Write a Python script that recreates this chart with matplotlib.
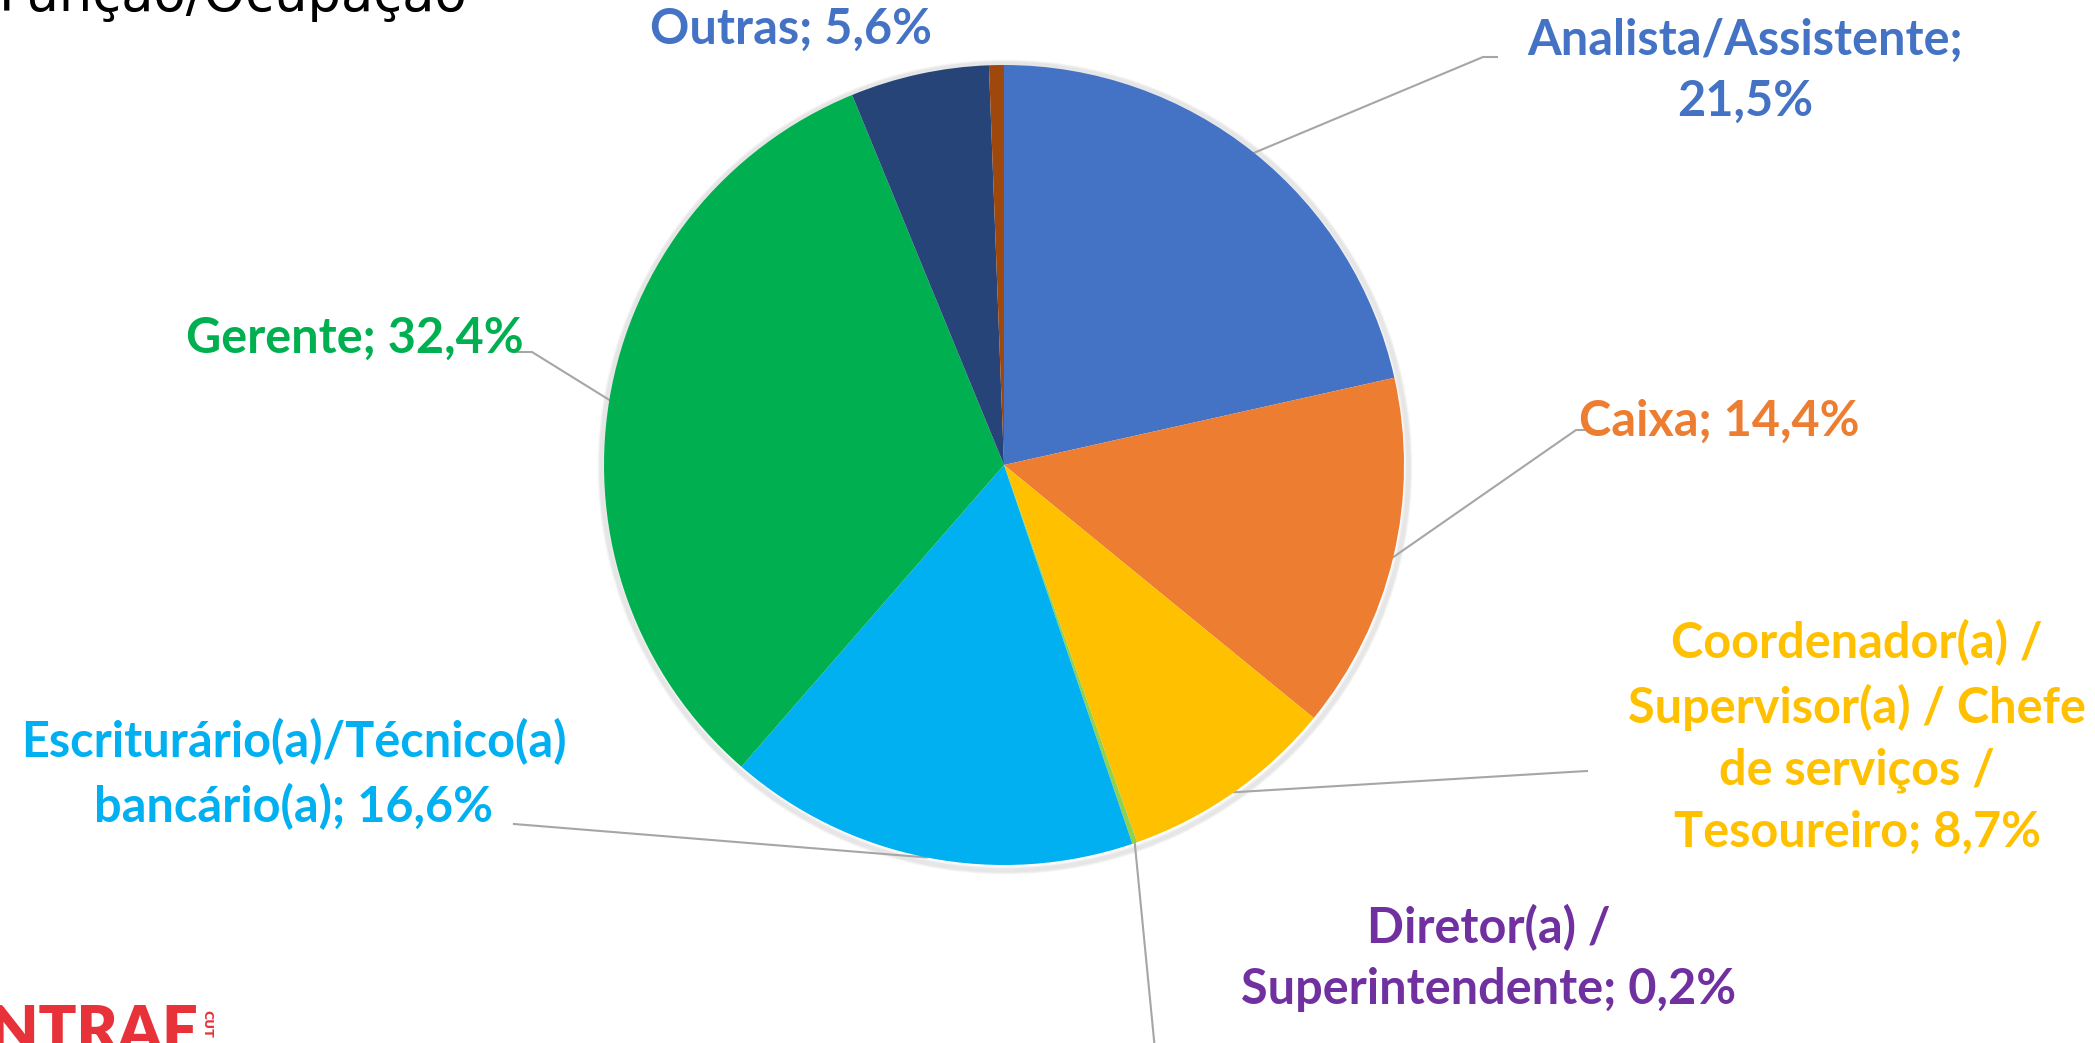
import matplotlib
matplotlib.use('Agg')
import matplotlib.pyplot as plt
from matplotlib.patches import Circle
import numpy as np

# Data setup
categories = ['Analista/Assistente', 'Caixa',
              'Coordenador(a) / Supervisor(a) / Chefe de serviços / Tesoureiro',
              'Diretor(a) / Superintendente',
              'Escriturário(a)/Técnico(a) bancário(a)', 'Gerente', 'Outras',
              'Sem resposta']
shares = [21.5, 14.4, 8.7, 0.2, 16.6, 32.4, 5.6, 0.6]
# label text as wrapped on the chart (None = slice without label)
label_names = ['Analista/Assistente;\n', 'Caixa; ',
               'Coordenador(a) /\nSupervisor(a) / Chefe\nde serviços /\nTesoureiro; ',
               'Diretor(a) /\nSuperintendente; ',
               'Escriturário(a)/Técnico(a)\nbancário(a); ', 'Gerente; ', 'Outras; ',
               None]
slice_colors = ['#4472C4', '#ED7D31', '#FFC000', '#92D050', '#00B0F0', '#00B050', '#264478', '#9E480E']
label_colors = ['#4472C4', '#ED7D31', '#FFC000', '#7030A0', '#00B0F0', '#00B050', '#4472C4', None]

# Layout (pixels, y measured from top of the image)
W, H = 2095, 1043
CX, CY, R = 1004, 465, 400
label_pos = [(1745, 71), (1719, 421), (1857, 737), (1489, 958), (294, 774), (355, 338), (791, 29), None]
# elbow points of leader lines (None = no leader line)
leader_pts = [[(1483, 57), (1497, 57)],
              [(1576, 430), (1593, 430)],
              [(1570, 772), (1587, 771)],
              [(1155, 1050)],
              [(514, 824)],
              [(532, 352), (515, 352)],
              None, None]

LABEL_FONT = ['Lato', 'DejaVu Sans']


def fy(y):
    # flip a top-based pixel y into axes data coordinates
    return H - y


fig = plt.figure(figsize=(W / 100, H / 100), dpi=100)
ax = fig.add_axes([0, 0, 1, 1])

# soft shadow around the pie
for k in range(1, 7):
    ax.add_patch(Circle((CX + 1, fy(CY) - 2), R + k, facecolor='none',
                        edgecolor='black', alpha=0.035, linewidth=2, zorder=0.2))

wedges, _ = ax.pie(shares, colors=slice_colors, startangle=90, counterclock=False,
                   center=(CX, fy(CY)), radius=R,
                   wedgeprops=dict(linewidth=0))
ax.set_xlim(0, W)
ax.set_ylim(0, H)
ax.set_aspect('equal')
ax.axis('off')

# Labels and leader lines
for i, w in enumerate(wedges):
    if label_names[i] is None:
        continue
    pct = f"{shares[i]:.1f}".replace('.', ',') + '%'
    lx, ly = label_pos[i]
    ax.text(lx, fy(ly), label_names[i] + pct, color=label_colors[i], fontsize=35,
            fontweight='bold', family=LABEL_FONT, ha='center', va='center',
            linespacing=1.45, multialignment='center')
    if leader_pts[i] is not None:
        mid = np.deg2rad((w.theta1 + w.theta2) / 2)
        xs = [CX + R * np.cos(mid)] + [p[0] for p in leader_pts[i]]
        ys = [fy(CY) + R * np.sin(mid)] + [fy(p[1]) for p in leader_pts[i]]
        ax.plot(xs, ys, color='#A6A6A6', linewidth=1.5, zorder=0.5, clip_on=False)

# Slide title, cut off at the top-left corner
ax.text(468, fy(11), 'Função/Ocupação', fontsize=38, family=['DejaVu Sans'],
        color='black', ha='right', va='baseline')

# Logo fragment at bottom-left
ax.text(198, fy(1005), 'CONTRAF', fontsize=45, fontweight='heavy', family=['Lato', 'DejaVu Sans'],
        color='#E8323A', ha='right', va='top')
ax.text(207, fy(1010), 'CUT', fontsize=9, fontweight='bold', color='#E8323A',
        rotation=-90, ha='center', va='top')

fig.savefig('out.png', dpi=100)
